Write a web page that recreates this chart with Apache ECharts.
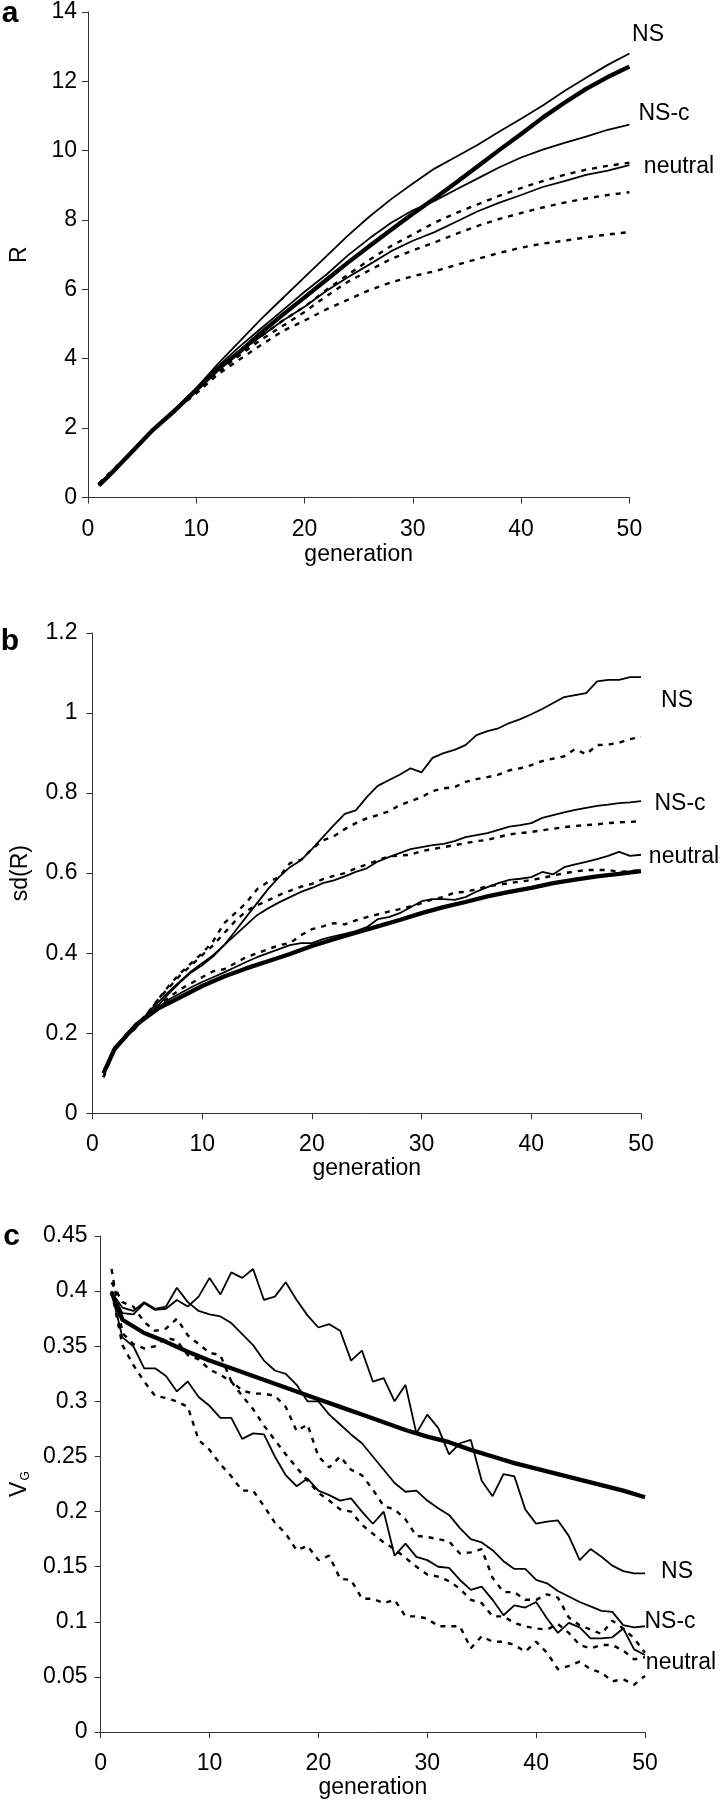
<!DOCTYPE html>
<html><head><meta charset="utf-8">
<script src="https://cdn.jsdelivr.net/npm/echarts@6/dist/echarts.min.js"></script>
<style>html,body{margin:0;padding:0;background:#fff}#chart{width:722px;height:1800px}</style>
</head><body><div id="chart"></div>
<script>
// ---------- data ----------
const genAll = [1,2,3,4,5,6,7,8,9,10,11,12,13,14,15,16,17,18,19,20,21,22,23,24,25,26,27,28,29,30,31,32,33,34,35,36,37,38,39,40,41,42,43,44,45,46,47,48,49,50];
const genCoarse = [1,2,4,6,8,10,12,14,16,18,20,22,24,26,28,30,32,34,36,38,40,42,44,46,48,50];

// panel a : R
const aThick = [.35,.65,1.30,1.95,2.50,3.10,3.70,4.20,4.75,5.27,5.77,6.27,6.77,7.25,7.72,8.18,8.62,9.08,9.55,10.02,10.48,10.95,11.38,11.78,12.12,12.42];
const aNS    = [.35,.68,1.30,1.98,2.55,3.15,3.85,4.50,5.15,5.75,6.35,6.95,7.55,8.10,8.60,9.05,9.48,9.82,10.17,10.55,10.92,11.30,11.72,12.10,12.47,12.80];
const aNSc   = [.35,.68,1.30,1.97,2.52,3.15,3.78,4.35,4.88,5.40,5.93,6.42,6.98,7.47,7.92,8.28,8.55,8.88,9.20,9.52,9.80,10.03,10.22,10.40,10.60,10.75];
const aNeut  = [.35,.68,1.30,1.97,2.52,3.12,3.72,4.20,4.65,5.10,5.50,5.95,6.35,6.72,7.10,7.40,7.65,7.95,8.25,8.50,8.72,8.95,9.12,9.30,9.42,9.58];
const aDot1  = [.40,.70,1.30,1.97,2.50,3.05,3.65,4.15,4.65,5.10,5.50,5.98,6.42,6.85,7.25,7.58,7.92,8.20,8.45,8.70,8.92,9.12,9.30,9.45,9.56,9.65];
const aDot2  = [.40,.70,1.30,1.95,2.50,3.05,3.60,4.10,4.55,4.95,5.35,5.80,6.22,6.55,6.88,7.12,7.35,7.60,7.83,8.03,8.20,8.36,8.50,8.62,8.72,8.80];
const aDot3  = [.40,.70,1.30,1.95,2.50,3.00,3.55,3.98,4.40,4.80,5.10,5.42,5.70,5.98,6.20,6.38,6.52,6.70,6.88,7.05,7.20,7.32,7.40,7.50,7.58,7.65];

// panel b : sd(R)
const bThick = [.100,.160,.222,.262,.290,.318,.342,.362,.380,.398,.418,.435,.451,.467,.483,.500,.515,.528,.542,.553,.563,.575,.584,.592,.598,.605];
const bNS   = [.100,.165,.190,.215,.245,.270,.300,.328,.352,.370,.392,.420,.455,.490,.525,.560,.590,.615,.632,.660,.690,.720,.748,.757,.790,.818,.832,.846,.862,.852,.888,.900,.908,.920,.945,.955,.962,.975,.985,.997,1.010,1.025,1.040,1.045,1.050,1.079,1.083,1.083,1.090,1.090];
const bNSc  = [.100,.165,.190,.215,.250,.278,.305,.330,.355,.375,.395,.420,.445,.470,.495,.512,.527,.540,.553,.563,.575,.582,.592,.603,.612,.629,.640,.650,.660,.665,.670,.673,.680,.690,.695,.700,.708,.716,.720,.725,.738,.745,.752,.758,.763,.768,.771,.775,.777,.780];
const bNeut = [.100,.165,.195,.222,.245,.265,.285,.300,.315,.328,.340,.352,.365,.378,.390,.400,.410,.420,.425,.425,.435,.442,.448,.455,.465,.485,.490,.500,.515,.530,.535,.535,.533,.540,.554,.565,.575,.583,.586,.590,.603,.597,.615,.622,.628,.635,.643,.653,.643,.646];
const bDot1 = [.090,.160,.190,.215,.245,.285,.320,.350,.375,.400,.430,.475,.500,.525,.560,.578,.590,.625,.633,.660,.682,.692,.710,.725,.737,.745,.754,.770,.780,.790,.805,.812,.815,.828,.835,.840,.846,.857,.862,.870,.880,.886,.892,.910,.897,.920,.921,.926,.935,.940];
const bDot2 = [.100,.160,.195,.220,.250,.285,.315,.345,.370,.395,.420,.450,.480,.505,.520,.532,.545,.556,.566,.573,.585,.593,.600,.612,.622,.632,.642,.644,.646,.655,.660,.665,.670,.675,.680,.683,.690,.697,.700,.703,.707,.711,.715,.718,.720,.722,.725,.727,.728,.730];
const bDot3 = [.090,.160,.190,.220,.245,.270,.290,.310,.325,.340,.355,.360,.375,.390,.400,.410,.420,.425,.445,.460,.467,.475,.472,.482,.490,.497,.504,.510,.517,.525,.535,.540,.552,.553,.560,.567,.571,.575,.579,.583,.588,.594,.600,.604,.608,.608,.608,.603,.605,.608];

// panel c : V_G
const cThick = [.399,.374,.362,.354,.345,.337,.330,.323,.316,.309,.302,.295,.288,.281,.274,.268,.263,.256,.250,.244,.239,.234,.229,.224,.219,.213];
const cNS   = [.399,.380,.379,.389,.383,.384,.392,.386,.395,.412,.397,.417,.412,.420,.392,.395,.408,.392,.378,.367,.370,.364,.337,.346,.318,.321,.300,.315,.271,.288,.276,.252,.262,.265,.228,.214,.234,.232,.202,.189,.191,.192,.178,.156,.166,.159,.151,.146,.144,.144];
const cNSc  = [.399,.385,.382,.390,.384,.386,.403,.390,.382,.379,.377,.371,.361,.351,.337,.328,.325,.315,.300,.300,.288,.279,.270,.262,.250,.238,.226,.218,.219,.210,.203,.197,.185,.175,.172,.165,.155,.148,.148,.138,.135,.128,.123,.118,.114,.110,.109,.097,.095,.096];
const cNeut = [.399,.358,.350,.330,.330,.323,.309,.318,.304,.296,.285,.285,.266,.271,.270,.250,.233,.223,.230,.219,.215,.210,.212,.200,.189,.200,.160,.171,.159,.156,.150,.149,.138,.129,.132,.120,.106,.115,.113,.118,.103,.090,.099,.095,.085,.085,.086,.094,.075,.070];
const cDot1 = [.408,.390,.386,.372,.364,.366,.375,.360,.352,.344,.342,.318,.310,.307,.307,.305,.295,.273,.279,.250,.240,.250,.238,.233,.220,.205,.202,.193,.178,.177,.175,.173,.162,.163,.166,.140,.127,.127,.120,.120,.125,.122,.104,.097,.093,.089,.101,.094,.085,.072];
const cDot2 = [.420,.362,.352,.348,.350,.358,.355,.342,.338,.329,.324,.318,.305,.293,.278,.265,.252,.240,.228,.217,.210,.202,.200,.188,.180,.172,.166,.158,.150,.143,.141,.137,.130,.120,.117,.105,.105,.099,.096,.094,.093,.098,.090,.079,.076,.079,.079,.074,.066,.068];
const cDot3 = [.400,.351,.333,.318,.305,.303,.300,.295,.265,.256,.243,.232,.219,.219,.205,.190,.180,.165,.169,.156,.160,.139,.138,.121,.121,.117,.120,.105,.105,.103,.096,.096,.096,.076,.087,.082,.082,.079,.073,.082,.072,.057,.060,.064,.057,.054,.046,.048,.043,.051];

const panelLetters = ['a','b','c'];
const seriesNames = ['NS','NS-c','neutral'];
const yTitles = ['R','sd(R)','{v|V}{g|G}'];
const xTitle = 'generation';

// ---------- styling ----------
const FONT = '"Liberation Sans", Arial, Helvetica, sans-serif';
const FS = 23;
const THIN  = {color:'#000', width:1.8};
const THICK = {color:'#000', width:4.3};
const DOT   = {color:'#000', width:2.4, type:[5,6]};

function line(xs, ys, idx, style, z){
  return {type:'line', xAxisIndex:idx, yAxisIndex:idx, data: xs.map((x,i)=>[x, ys[i]]),
    symbol:'none', showSymbol:false, lineStyle:style, silent:true, z:z||2, animation:false};
}

const grids = [
  {left:87.5, top:11.8, width:541.9, height:485.7},
  {left:92.5, top:633, width:548.5, height:480.3},
  {left:98.3, top:1236, width:546.7, height:500.5}
];
const yMax = [14, 1.2, 0.45], yInt = [2, 0.2, 0.05];
const yLabelMargin = [11, 15, 13];
const xLabelMargin = [21, 20, 20];
const xNameGap = [46, 41, 36];
const yNameGap = [57, 60, 63];

const axisLine = {show:true, lineStyle:{color:'#333', width:1}};
const axisTick = {show:true, inside:false, length:6, lineStyle:{color:'#333', width:1}};

const xAxes = grids.map((g,i)=>({
  type:'value', gridIndex:i, min:0, max:50, interval:10,
  axisLine, axisTick, splitLine:{show:false},
  axisLabel:{fontSize:FS, color:'#000', fontFamily:FONT, margin:xLabelMargin[i]},
  name:xTitle, nameLocation:'middle', nameGap:xNameGap[i],
  nameTextStyle:{fontSize:FS, color:'#000', fontFamily:FONT}
}));
const yAxes = grids.map((g,i)=>({
  type:'value', gridIndex:i, min:0, max:yMax[i], interval:yInt[i],
  axisLine, axisTick, splitLine:{show:false},
  axisLabel:{fontSize:FS, color:'#000', fontFamily:FONT, margin:yLabelMargin[i]},
  name:yTitles[i], nameLocation:'middle', nameGap:yNameGap[i], nameRotate:90,
  nameTextStyle:{fontSize:FS, color:'#000', fontFamily:FONT,
    rich:{v:{fontSize:FS, fontFamily:FONT, color:'#000', lineHeight:25},
          g:{fontSize:12, fontFamily:FONT, color:'#000', verticalAlign:'bottom', lineHeight:25, padding:[8,0,0,1]}}}
}));

const series = [
  line(genCoarse,aDot1,0,DOT), line(genCoarse,aDot2,0,DOT), line(genCoarse,aDot3,0,DOT),
  line(genCoarse,aNS,0,THIN), line(genCoarse,aNSc,0,THIN), line(genCoarse,aNeut,0,THIN),
  line(genCoarse,aThick,0,THICK,3),
  line(genAll,bDot1,1,DOT), line(genAll,bDot2,1,DOT), line(genAll,bDot3,1,DOT),
  line(genAll,bNS,1,THIN), line(genAll,bNSc,1,THIN), line(genAll,bNeut,1,THIN),
  line(genCoarse,bThick,1,THICK,3),
  line(genAll,cDot1,2,DOT), line(genAll,cDot2,2,DOT), line(genAll,cDot3,2,DOT),
  line(genAll,cNS,2,THIN), line(genAll,cNSc,2,THIN), line(genAll,cNeut,2,THIN),
  line(genCoarse,cThick,2,THICK,3)
];

// annotation texts
const letterPos = [[10,14],[10,642],[11.5,1237]];
const labelPos = [
  [[648,35],[664,114],[679,167]],
  [[677,701],[680,804],[684,857]],
  [[677,1572],[670,1622],[681,1663]]
];
const graphic = [];
panelLetters.forEach((t,i)=>graphic.push({type:'text', x:letterPos[i][0], y:letterPos[i][1],
  style:{text:t, fontSize:30, fontWeight:'bold', fontFamily:FONT, fill:'#000', textAlign:'center', textVerticalAlign:'middle'}}));
labelPos.forEach(p=>p.forEach((q,j)=>graphic.push({type:'text', x:q[0], y:q[1],
  style:{text:seriesNames[j], fontSize:FS, fontFamily:FONT, fill:'#000', textAlign:'center', textVerticalAlign:'middle'}})));

const chart = echarts.init(document.getElementById('chart'), null, {renderer:'canvas', width:722, height:1800});
chart.setOption({
  backgroundColor:'#fff', animation:false,
  textStyle:{fontFamily:FONT},
  grid:grids, xAxis:xAxes, yAxis:yAxes, series, graphic
});
</script>
</body></html>
